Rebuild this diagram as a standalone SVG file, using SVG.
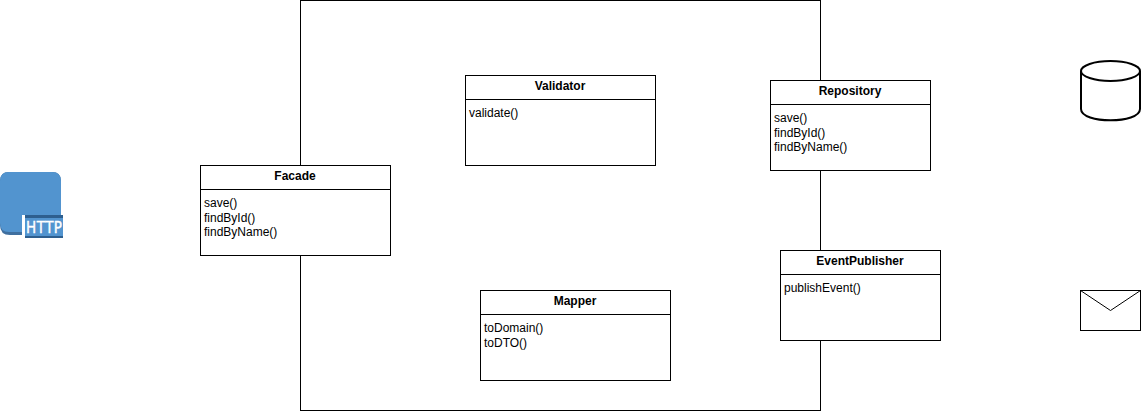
<svg xmlns="http://www.w3.org/2000/svg" width="1142" height="411" viewBox="0 0 1142 411">
<style>
text{font-family:"Liberation Sans",Arial,sans-serif;font-size:12px;fill:#000}
.t{font-weight:bold;text-anchor:middle}
.b{fill:#fff;stroke:#000;stroke-width:1}
.l{fill:none;stroke:#000;stroke-width:1}
</style>
<rect width="1142" height="411" fill="#fff"/>
<g id="connectors"><rect id="boundary" x="300.500" y="0.500" width="520" height="410" class="l"/></g>
<g id="facade"><rect x="200.500" y="165.500" width="190" height="90" class="b"/><path d="M200.500 189.500H390.500" class="l"/><text class="t" x="295" y="180">Facade</text><text x="204" y="207">save()</text><text x="204" y="222">findById()</text><text x="204" y="236">findByName()</text></g>
<g id="validator"><rect x="465.500" y="75.500" width="190" height="90" class="b"/><path d="M465.500 99.500H655.500" class="l"/><text class="t" x="560" y="90">Validator</text><text x="469" y="117">validate()</text></g>
<g id="repository"><rect x="770.500" y="80.500" width="160" height="90" class="b"/><path d="M770.500 104.500H930.500" class="l"/><text class="t" x="850" y="95">Repository</text><text x="774" y="122">save()</text><text x="774" y="137">findById()</text><text x="774" y="151">findByName()</text></g>
<g id="mapper"><rect x="480.500" y="290.500" width="190" height="90" class="b"/><path d="M480.500 314.500H670.500" class="l"/><text class="t" x="575" y="305">Mapper</text><text x="484" y="332">toDomain()</text><text x="484" y="347">toDTO()</text></g>
<g id="eventpublisher"><rect x="780.500" y="250.500" width="160" height="90" class="b"/><path d="M780.500 274.500H940.500" class="l"/><text class="t" x="860" y="265">EventPublisher</text><text x="784" y="292">publishEvent()</text></g>
<g id="http">
<path d="M9 172H52Q61 172 61 181V226Q61 235 52 235H10Q0 235 0 225V181Q0 172 9 172Z" fill="#3f6f9f"/>
<path d="M9 172H52Q61 172 61 181V223Q61 232 52 232H9Q0 232 0 223V181Q0 172 9 172Z" fill="#5294cf"/>
<rect x="22" y="215" width="3" height="21" fill="#fff"/>
<rect x="25" y="215" width="38" height="3" fill="#2e5f8f"/>
<rect x="25" y="218" width="38" height="18" fill="#5294cf"/>
<rect x="25" y="236" width="38" height="2" fill="#2e5f8f"/>
<text x="26" y="232.500" style="fill:#fff;stroke:#fff;stroke-width:.35px;font-family:'DejaVu Sans Condensed','DejaVu Sans',sans-serif;font-size:15px;letter-spacing:.5px">HTTP</text>
</g>
<g id="database"><path d="M1081 71V109C1081 124 1140 124 1140 109V71" fill="#fff" stroke="#000" stroke-width="2"/><ellipse cx="1110.500" cy="71" rx="29.500" ry="10" fill="#fff" stroke="#000" stroke-width="2"/></g>
<g id="mail"><rect x="1080.500" y="290.500" width="60" height="40" class="b"/><path d="M1080.500 290.500L1110.500 310.500L1140.500 290.500" class="l"/></g>
</svg>
